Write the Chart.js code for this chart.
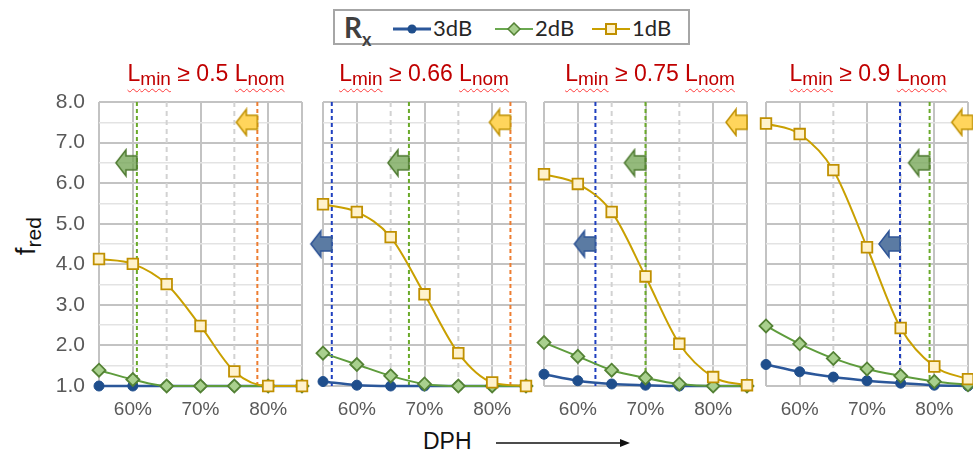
<!DOCTYPE html>
<html>
<head>
<meta charset="utf-8">
<script src="https://cdn.jsdelivr.net/npm/chart.js@4.4.0/dist/chart.umd.min.js"></script>
<style>
  body { margin: 0; width: 973px; height: 451px; background: #fff; position: relative; overflow: hidden; font-family: 'Liberation Sans', Arial, sans-serif; }
  canvas { position: absolute; top: 85px; }
  .ttl { position: absolute; top: 62px; line-height: 23px; color: #c00000; font-size: 23px; white-space: nowrap; transform: translateX(-50%); }
  .ttl .s { font-size: 19px; position: relative; top: 4px; }
  .ttl .w { text-decoration: underline wavy #ff3b3b; text-decoration-thickness: 1px; text-underline-offset: 7px; }
  #legend { position: absolute; left: 333px; top: 9px; width: 357px; height: 36px; border: 2px solid #a6a6a6; box-sizing: border-box; font-family: Lato, sans-serif; }
  #legend .it { position: absolute; top: 3px; font-size: 22px; color: #262626; }
  #legend svg { position: absolute; top: 11px; }
  #ylab { position: absolute; left: 26px; top: 236px; transform: translate(-50%, -50%) rotate(-90deg); white-space: nowrap; color: #111; font-size: 27px; }
  #ylab span { font-size: 21px; position: relative; top: 6px; }
  #dph { position: absolute; left: 423px; top: 428px; font-size: 23px; color: #111; }
</style>
</head>
<body>

<div id="legend">
  <div class="it" style="left:9px;top:-1px;font-weight:bold;font-size:28px;color:#404040">R<span style="font-size:18px;position:relative;top:8px">x</span></div>
  <svg style="left:58px" width="38" height="14"><line x1="0" y1="7" x2="38" y2="7" stroke="#2b579a" stroke-width="3"/><circle cx="19" cy="7" r="4.5" fill="#1f4e8c"/></svg>
  <div class="it" style="left:98px">3dB</div>
  <svg style="left:160px" width="38" height="14"><line x1="0" y1="7" x2="38" y2="7" stroke="#6aa84f" stroke-width="2"/><polygon points="19,1 25,7 19,13 13,7" fill="#a9d08e" stroke="#548235" stroke-width="1.5"/></svg>
  <div class="it" style="left:200px">2dB</div>
  <svg style="left:257px" width="38" height="14"><line x1="0" y1="7" x2="38" y2="7" stroke="#c9a000" stroke-width="2"/><rect x="14" y="2" width="10" height="10" fill="#fff2cc" stroke="#c09000" stroke-width="2"/></svg>
  <div class="it" style="left:297px">1dB</div>
</div>

<div id="ylab">f<span>red</span></div>

<div id="dph">DPH</div>
<svg style="position:absolute;left:494px;top:436px" width="140" height="14">
  <line x1="2" y1="7" x2="128" y2="7" stroke="#111" stroke-width="1.5"/>
  <polygon points="136,7 126,3 126,11" fill="#111"/>
</svg>

<canvas id="p0" width="312" height="345" style="left:0px"></canvas>
<canvas id="p1" width="231" height="345" style="left:305px"></canvas>
<canvas id="p2" width="229" height="345" style="left:528px"></canvas>
<canvas id="p3" width="223" height="345" style="left:750px"></canvas>

<script>
// ── Data ──

const dph = [55, 60, 65, 70, 75, 80, 85];
const lminRatio = ['0.5', '0.66', '0.75', '0.9'];

// f_red per panel (Lmin >= 0.5, 0.66, 0.75, 0.9 Lnom)
const f3dB = [
  [1.0, 1.0, 1.0, 1.0, 1.0, 1.0, 1.0],
  [1.11, 1.02, 1.0, 1.0, 1.0, 1.0, 1.0],
  [1.29, 1.13, 1.05, 1.02, 1.0, 1.0, 1.0],
  [1.53, 1.35, 1.22, 1.13, 1.07, 1.02, 1.0],
];
const f2dB = [
  [1.39, 1.16, 1.0, 1.0, 1.0, 1.0, 1.0],
  [1.81, 1.53, 1.25, 1.05, 1.0, 1.0, 1.0],
  [2.07, 1.73, 1.39, 1.2, 1.05, 1.0, 1.0],
  [2.48, 2.04, 1.68, 1.42, 1.25, 1.11, 1.03],
];
const f1dB = [
  [4.13, 4.01, 3.51, 2.48, 1.36, 1.0, 1.0],
  [5.48, 5.29, 4.67, 3.26, 1.81, 1.09, 1.0],
  [6.22, 5.98, 5.29, 3.7, 2.04, 1.22, 1.02],
  [7.47, 7.21, 6.32, 4.42, 2.43, 1.48, 1.17],
];

// DPH limits (dashed lines + arrows), null = below range
const lim3dB = [null, 56.3, 62.6, 74.9];
const lim2dB = [60.6, 67.7, 70.0, 79.3];
const lim1dB = [78.4, 82.7, 85.0, 85.7];
const arrowLevel = [4.5, 6.5, 7.5]; // 3dB, 2dB, 1dB

// ── Layout ──

const geo = [
  { padL: 0, padR: 10, yw: 99 },
  { padL: 18, padR: 10, yw: 0 },
  { padL: 16, padR: 10, yw: 0 },
  { padL: 16, padR: 5, yw: 0 },
];
const titleX = [206, 424, 650, 868];

const FONT = "'Liberation Sans', Arial, sans-serif";
const SER = [
  { key: '3dB', line: '#2b579a', fill: '#1f4e8c', edge: '#1f4e8c', style: 'circle', r: 5, lw: 2.5, dash: '#1f3fbf', afill: '#5b7ba3', aedge: '#2f5597' },
  { key: '2dB', line: '#5e9c3c', fill: '#a9d08e', edge: '#548235', style: 'rectRot', r: 6.5, lw: 2, dash: '#6aaa2a', afill: 'rgba(112,163,80,0.75)', aedge: '#4e7a30' },
  { key: '1dB', line: '#c9a000', fill: '#fff2cc', edge: '#c09000', style: 'rect', r: 7.5, lw: 2, dash: '#ed7d31', afill: '#ffd55c', aedge: '#bf9000' },
];

// ── Helpers ──

const makeArrow = (fill, edge) => {
  const c = document.createElement('canvas');
  c.width = 46; c.height = 30;
  const g = c.getContext('2d');
  // tail sits at canvas centre (x = 23) so the point x is the limit
  const tx = 23, hx = 2, nx = 12, cy = 15;
  g.beginPath();
  g.moveTo(hx, cy);
  g.lineTo(nx, cy - 13);
  g.lineTo(nx, cy - 7);
  g.lineTo(tx, cy - 7);
  g.lineTo(tx, cy + 7);
  g.lineTo(nx, cy + 7);
  g.lineTo(nx, cy + 13);
  g.closePath();
  g.fillStyle = fill;
  g.fill();
  g.lineWidth = 1.5;
  g.strokeStyle = edge;
  g.stroke();
  return c;
};

const dashedGrid = {
  id: 'dashedGrid',
  beforeDatasetsDraw(chart) {
    const { ctx, chartArea: a, scales: { x } } = chart;
    ctx.save();
    ctx.strokeStyle = '#d2d2d2';
    ctx.lineWidth = 2;
    ctx.setLineDash([5, 4]);
    x.ticks.forEach(t => {
      if (t.value % 10 !== 5 || t.value === 55 || t.value === 85) return;
      const px = x.getPixelForValue(t.value);
      ctx.beginPath(); ctx.moveTo(px, a.top); ctx.lineTo(px, a.bottom); ctx.stroke();
    });
    ctx.restore();
  },
};

const noPad = s => { s.paddingTop = 0; s.paddingBottom = 0; s.paddingLeft = 0; s.paddingRight = 0; };

// ── Titles ──

lminRatio.forEach((r, i) => {
  const d = document.createElement('div');
  d.className = 'ttl';
  d.style.left = titleX[i] + 'px';
  d.innerHTML = `<span class="w">L<span class="s">min</span></span> ≥ ${r} <span class="w">L<span class="s">nom</span></span>`;
  document.body.appendChild(d);
});

// ── Charts ──

function buildPanel(i) {
  const series = [f3dB[i], f2dB[i], f1dB[i]];
  const lims = [lim3dB[i], lim2dB[i], lim1dB[i]];
  const datasets = [];

  lims.forEach((lim, k) => {
    if (lim == null) return;
    if (lim < 85) {
      datasets.push({
        data: [{ x: lim, y: 1 }, { x: lim, y: 8 }],
        borderColor: SER[k].dash, borderWidth: 2, borderDash: [4, 3],
        pointRadius: 0, order: 10,
      });
    }
    datasets.push({
      data: [{ x: lim, y: arrowLevel[k] }],
      showLine: false, pointStyle: makeArrow(SER[k].afill, SER[k].aedge),
      pointRadius: 14, pointBorderWidth: 0, clip: false, order: 0,
    });
  });

  series.forEach((vals, k) => {
    const s = SER[k];
    datasets.push({
      label: s.key,
      data: vals.map((v, j) => ({ x: dph[j], y: v })),
      borderColor: s.line, borderWidth: s.lw,
      pointStyle: s.style, pointRadius: s.r,
      pointBackgroundColor: s.fill, pointBorderColor: s.edge, pointBorderWidth: k === 0 ? 1 : 1.8,
      cubicInterpolationMode: 'monotone', clip: false, order: 3 - k,
    });
  });

  const g = geo[i];
  new Chart(document.getElementById('p' + i), {
    type: 'line',
    data: { datasets },
    plugins: [dashedGrid],
    options: {
      responsive: false, animation: false, events: [],
      layout: { padding: { left: g.padL, right: g.padR, top: 17, bottom: 0 }, autoPadding: false },
      plugins: { legend: { display: false }, tooltip: { enabled: false } },
      scales: {
        x: {
          type: 'linear', min: 55, max: 85,
          afterFit: s => { noPad(s); s.height = 44; },
          border: { display: false },
          grid: {
            drawTicks: false,
            color: c => (c.tick.value % 10 === 0 || c.tick.value === 55 || c.tick.value === 85) ? '#c3c3c3' : 'rgba(0,0,0,0)',
            lineWidth: 2,
          },
          ticks: {
            stepSize: 5, autoSkip: false, maxRotation: 0, padding: 12,
            color: '#595959', font: { family: FONT, size: 19 },
            callback: v => (v % 10 === 0 ? v + '%' : ''),
          },
        },
        y: {
          min: 1, max: 8,
          afterFit: s => { noPad(s); s.width = g.yw; },
          border: { display: false },
          grid: {
            drawTicks: false,
            color: c => Number.isInteger(c.tick.value) ? '#c3c3c3' : '#e3e3e3',
            lineWidth: c => Number.isInteger(c.tick.value) ? 2 : 1.5,
          },
          ticks: {
            stepSize: 0.5, autoSkip: false, padding: 14, display: i === 0,
            color: '#595959', font: { family: FONT, size: 21 },
            callback: v => (Number.isInteger(v) ? v.toFixed(1) : ''),
          },
        },
      },
    },
  });
}

[0, 1, 2, 3].forEach(buildPanel);
</script>
</body>
</html>
